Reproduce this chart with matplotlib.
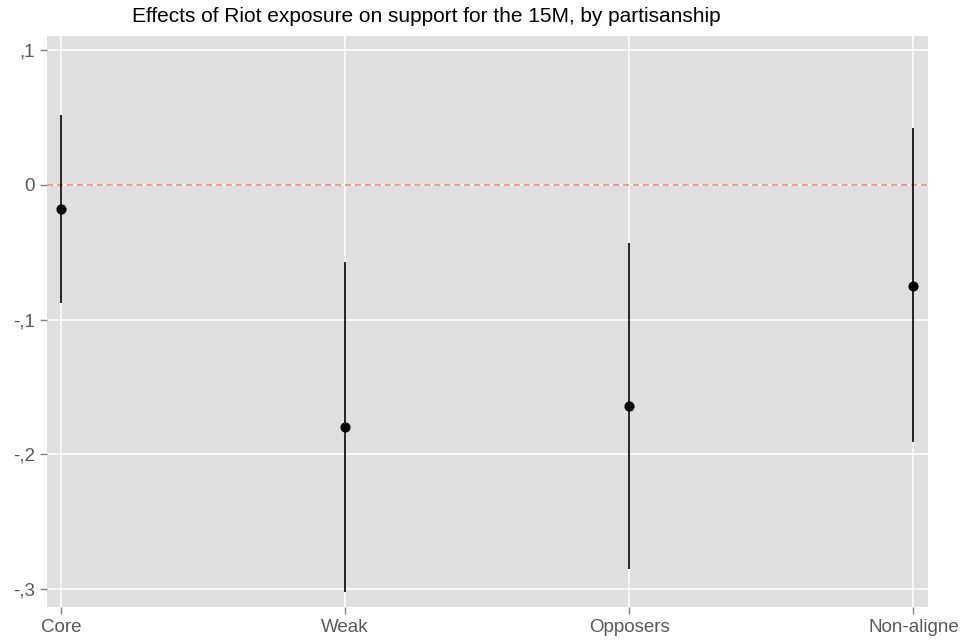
import matplotlib.pyplot as plt

groups = ['Core', 'Weak', 'Opposers', 'Non-aligne']
effect = [-0.018, -0.180, -0.164, -0.075]
ci_low = [-0.088, -0.302, -0.285, -0.191]
ci_high = [0.052, -0.057, -0.043, 0.042]
ytick_vals = [0.1, 0.0, -0.1, -0.2, -0.3]
ytick_labels = [',1', '0', '-,1', '-,2', '-,3']

plt.rcParams['font.family'] = ['Liberation Sans', 'DejaVu Sans']

fig = plt.figure(figsize=(9.6, 6.44), dpi=100)
ax = fig.add_axes([47/960, 1 - 606.7/644, (927.7-47)/960, (606.7-36)/644])
ax.set_facecolor('#dfdfdf')
for s in ax.spines.values():
    s.set_visible(False)

x = list(range(len(groups)))
ax.set_xlim(-0.049, 3.05)
ax.set_ylim(-0.313, 0.1104)
ax.set_yticks(ytick_vals)
ax.set_yticklabels(ytick_labels)
ax.set_xticks(x)
ax.set_xticklabels(groups)
ax.grid(True, color='white', linewidth=1.1)
ax.set_axisbelow(True)
ax.tick_params(colors='#7f7f7f', labelcolor='#595959', labelsize=13.5, length=5, width=1, pad=3.5)

ax.axhline(0, color='#f08080', linestyle=(0, (4, 2.5)), linewidth=1.1, zorder=2)
ax.vlines(x, ci_low, ci_high, color='black', linewidth=1.2, zorder=3)
ax.plot(x, effect, 'o', color='black', markersize=6.3, zorder=4)

fig.text(426/960, 1 - 17/644, 'Effects of Riot exposure on support for the 15M, by partisanship',
         ha='center', va='center', fontsize=15, color='black')

fig.savefig('out.png', dpi=100)
